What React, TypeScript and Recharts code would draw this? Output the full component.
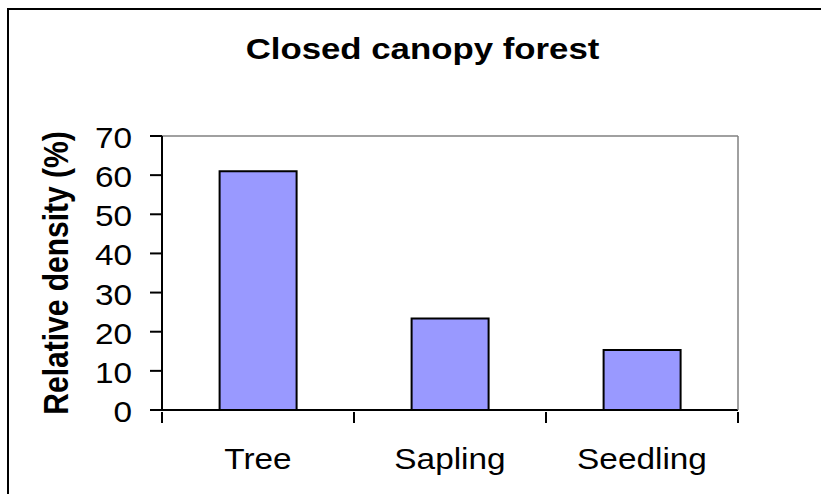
import { Bar, BarChart, ReferenceLine, XAxis, YAxis } from 'recharts';

const categories = ['Tree', 'Sapling', 'Seedling'];
const density = [61, 23.4, 15.3];
const yTicks = [0, 10, 20, 30, 40, 50, 60, 70];

const data = categories.map((name, i) => ({ name, density: density[i] }));

const FONT = '"Liberation Sans", Arial, sans-serif';
const STRETCH = 1.15;

const YTick = ({ x, y, payload }: any) => (
  <g transform={`translate(${x},${y + 12})`}>
    <text transform={`scale(${STRETCH},1)`} textAnchor="end" fontSize={29} fontFamily={FONT} fill="#000">
      {payload.value}
    </text>
  </g>
);

// category label + tick marks on the category boundaries (Excel style)
const XTick = ({ x, y, payload, width, visibleTicksCount, index }: any) => {
  const band = width && visibleTicksCount ? width / visibleTicksCount : 0;
  return (
    <g>
      {band > 0 && <line x1={x - band / 2} x2={x - band / 2} y1={y} y2={y + 11} stroke="#000" strokeWidth={2} />}
      {band > 0 && index === visibleTicksCount - 1 && (
        <line x1={x + band / 2} x2={x + band / 2} y1={y} y2={y + 11} stroke="#000" strokeWidth={2} />
      )}
      <g transform={`translate(${x},${y + 57})`}>
        <text transform={`scale(${STRETCH},1)`} textAnchor="middle" fontSize={29} fontFamily={FONT} fill="#000">
          {payload.value}
        </text>
      </g>
    </g>
  );
};

export default function App() {
  return (
    <>
      <style>{'html,body{margin:0;overflow:hidden;background:#fff}'}</style>
      <div
        style={{
          position: 'absolute',
          left: 7,
          top: 8,
          width: 814,
          height: 486,
          overflow: 'hidden',
          borderLeft: '2px solid #000',
          borderTop: '2px solid #000',
          boxSizing: 'border-box',
          background: '#fff',
        }}
      >
        <BarChart
          width={830}
          height={490}
          data={data}
          barCategoryGap="30%"
          margin={{ top: 126, right: 100, bottom: 0, left: 0 }}
        >
          <XAxis
            dataKey="name"
            height={90}
            tickSize={0}
            tickLine={false}
            axisLine={{ stroke: '#000', strokeWidth: 2 }}
            tick={XTick}
          />
          <YAxis
            domain={[0, 70]}
            ticks={yTicks}
            width={153}
            tickSize={12}
            tickMargin={18}
            axisLine={{ stroke: '#000', strokeWidth: 2 }}
            tickLine={{ stroke: '#000', strokeWidth: 2 }}
            tick={YTick}
          />
          <YAxis
            yAxisId="right"
            orientation="right"
            domain={[0, 70]}
            width={1}
            tick={false}
            tickLine={false}
            axisLine={{ stroke: '#808080', strokeWidth: 1.5 }}
          />
          <ReferenceLine y={70} stroke="#808080" strokeWidth={1.5} />
          <Bar dataKey="density" fill="#9999FF" stroke="#000" strokeWidth={2} isAnimationActive={false} />
        </BarChart>
        <svg width={812} height={484} style={{ position: 'absolute', left: 0, top: 0, pointerEvents: 'none' }}>
          <g transform={`translate(413.5,49) scale(1.16,1)`}>
            <text textAnchor="middle" fontSize={30} fontWeight="bold" fontFamily={FONT} fill="#000">
              Closed canopy forest
            </text>
          </g>
          <g transform={`translate(59,263) rotate(-90) scale(1,1.16)`}>
            <text textAnchor="middle" fontSize={30} fontWeight="bold" fontFamily={FONT} fill="#000">
              Relative density (%)
            </text>
          </g>
        </svg>
      </div>
    </>
  );
}
